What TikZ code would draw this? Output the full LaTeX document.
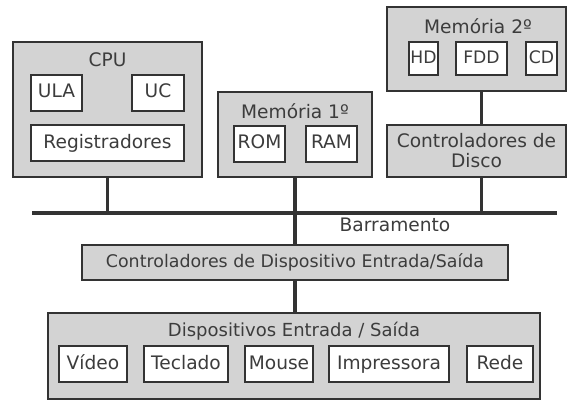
\documentclass[tikz,border=0pt]{standalone}
\usepackage{fontspec}
\setmainfont{DejaVu Sans}
\usepackage{xcolor}
\definecolor{caixa}{HTML}{D3D3D3}
\definecolor{linha}{HTML}{333333}
\definecolor{texto}{HTML}{3C3C3C}

\begin{document}
\begin{tikzpicture}[x=0.5pt, y=-0.5pt,
    every node/.style={font=\fontsize{9.3}{10}\selectfont, text=texto},
    grupo/.style={draw=linha, line width=1pt, fill=caixa, inner sep=0pt},
    item/.style={draw=linha, line width=1pt, fill=white, inner sep=0pt, minimum height=18pt,
        text height=7pt, text depth=2pt},
    pequeno/.style={font=\fontsize{8.6}{10}\selectfont, minimum height=16.5pt},
    barra/.style={draw=linha, line width=1.6pt}]
\useasboundingbox (0,0) rectangle (568,402);
% CPU
\node[grupo, minimum width=189*0.5pt, minimum height=135*0.5pt] (cpu) at (107.5,109.5) {};
\node (tcpu) at (107.5,60) {CPU};
\node[item, minimum width=51*0.5pt] (ula) at (56.5,92.5) {ULA};
\node[item, minimum width=52*0.5pt] (uc) at (158,92.5) {UC};
\node[item, minimum width=153*0.5pt] (reg) at (107.5,143) {Registradores};
% memoria 1
\node[grupo, minimum width=154*0.5pt, minimum height=85*0.5pt] (mem1) at (295,134.5) {};
\node (tmem1) at (295,111) {Memória 1º};
\node[item, minimum width=51*0.5pt] (rom) at (259.5,143.5) {ROM};
\node[item, minimum width=51*0.5pt] (ram) at (331.5,143.5) {RAM};
% memoria 2
\node[grupo, minimum width=179*0.5pt, minimum height=84*0.5pt] (mem2) at (476.5,49) {};
\node (tmem2) at (478,26) {Memória 2º};
\node[item, pequeno, minimum width=29*0.5pt] (hd) at (423.5,58.5) {HD};
\node[item, pequeno, minimum width=51*0.5pt] (fdd) at (481.5,58.5) {FDD};
\node[item, pequeno, minimum width=31*0.5pt] (cd) at (541.5,58.5) {CD};
\node[grupo, align=center, minimum width=179*0.5pt, minimum height=52*0.5pt] (ctrldisco) at (476.5,151) {Controladores de\\Disco};
% barramento
\coordinate (busL) at (32,213);
\coordinate (busR) at (557,213);
\draw[barra] (busL) -- (busR);
\node (lbus) at (395,225) {Barramento};
\node[grupo, font=\fontsize{8.7}{10}\selectfont, minimum width=426*0.5pt, minimum height=35*0.5pt] (ctrles) at (295,262.5) {Controladores de Dispositivo Entrada/Saída};
% dispositivos
\node[grupo, minimum width=492*0.5pt, minimum height=86*0.5pt] (disp) at (294,356) {};
\node[font=\fontsize{9}{10}\selectfont] (tdisp) at (294,331) {Dispositivos Entrada / Saída};
\foreach \x/\w/\nome/\txt in {93/68/video/Vídeo, 186/84/teclado/Teclado, 279/68/mouse/Mouse, 389/120/impressora/Impressora, 500/66/rede/Rede}
    \node[item, minimum width=\w*0.5pt] (\nome) at (\x,364) {\txt};
\draw[barra] (cpu.south) -- (cpu.south |- busL);
\draw[barra] (mem1.south) -- (ctrles.north);
\draw[barra] (mem2.south -| fdd) -- (ctrldisco.north -| fdd);
\draw[barra] (ctrldisco.south -| fdd) -- (fdd |- busR);
\draw[barra] (ctrles.south -| mem1) -- (disp.north -| mem1);
\end{tikzpicture}
\end{document}
